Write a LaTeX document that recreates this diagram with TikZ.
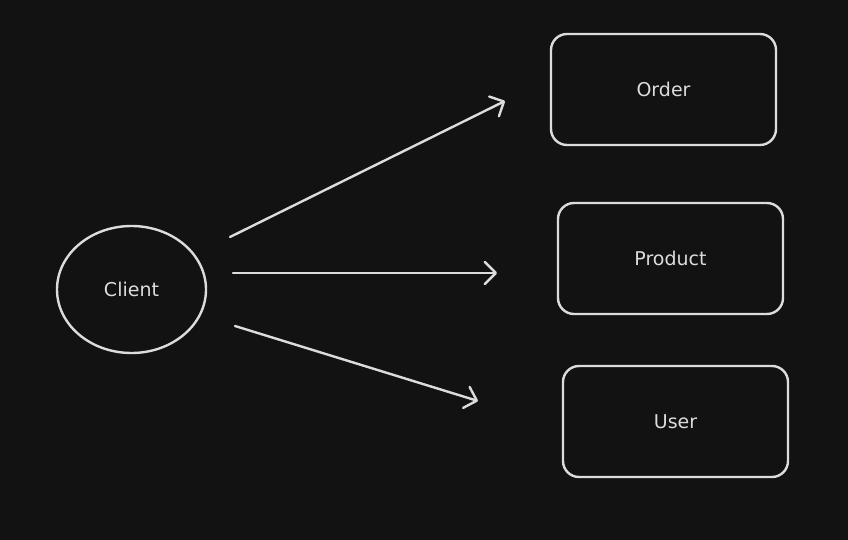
\documentclass[tikz,border=0pt]{standalone}
\usepackage{fontspec}
\setmainfont{DejaVu Sans}
\usetikzlibrary{arrows.meta}
\definecolor{bg}{HTML}{121212}
\definecolor{ink}{HTML}{DCDCDC}
\begin{document}
\begin{tikzpicture}[x=1pt,y=-1pt,
  shapeline/.style={draw=ink, line width=2.4pt},
  box/.style={shapeline, rounded corners=16pt, minimum width=225pt, minimum height=111pt, inner sep=0pt},
  lbl/.style={text=ink, font=\fontsize{19}{21}\selectfont},
  conn/.style={draw=ink, line width=2.4pt, line cap=round, -{Straight Barb[length=11pt,width=22pt,line width=2.4pt,round]}}]
\fill[bg] (0,0) rectangle (848,540);
\useasboundingbox (0,0) rectangle (848,540);
\draw[shapeline] (131.5,289.5) ellipse [x radius=74.5, y radius=63.5];
\node[lbl] (client) at (131.5,289.5) {Client};
\node[box] (order) at (663.5,89.5) {};
\node[lbl] at (order.center) {Order};
\node[box] (product) at (670.5,258.5) {};
\node[lbl] at (product.center) {Product};
\node[box] (user) at (675.5,421.5) {};
\node[lbl] at (user.center) {User};
\coordinate (a1s) at (230,237);
\coordinate (a1e) at (505,101);
\coordinate (a2s) at (233,273);
\coordinate (a2e) at (497,273);
\coordinate (a3s) at (235,326);
\coordinate (a3e) at (478,401);
\draw[conn] (a1s) -- (a1e);
\draw[conn] (a2s) -- (a2e);
\draw[conn] (a3s) -- (a3e);
\end{tikzpicture}
\end{document}
